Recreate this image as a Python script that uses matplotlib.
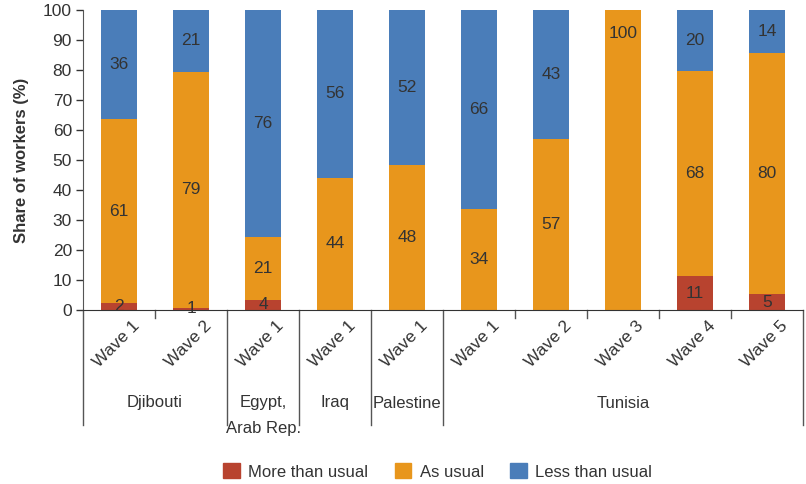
import matplotlib
matplotlib.use("Agg")
import matplotlib.pyplot as plt
from matplotlib.patches import Patch

plt.rcParams["font.family"] = ["Liberation Sans", "DejaVu Sans"]

# Bars: one per survey wave
groups = ["Djibouti", "Egypt,\nArab Rep.", "Iraq", "Palestine", "Tunisia"]
group_sizes = [2, 1, 1, 1, 5]
waves = ["Wave 1", "Wave 2", "Wave 1", "Wave 1", "Wave 1",
         "Wave 1", "Wave 2", "Wave 3", "Wave 4", "Wave 5"]

# Segment heights (share of workers, %)
more_than_usual = [2.4, 0.8, 3.5, 0, 0, 0, 0, 0, 11.2, 5.2]
as_usual = [61.2, 78.7, 20.8, 44, 48.3, 33.8, 56.9, 100, 68.6, 80.6]
less_than_usual = [36.4, 20.5, 75.7, 56, 51.7, 66.2, 43.1, 0, 20.2, 14.2]

# Printed labels
more_labels = [2, 1, 4, None, None, None, None, None, 11, 5]
as_labels = [61, 79, 21, 44, 48, 34, 57, 100, 68, 80]
less_labels = [36, 21, 76, 56, 52, 66, 43, None, 20, 14]

RED = "#B8432F"
ORANGE = "#E8961C"
BLUE = "#4A7DB9"
TXT = "#333333"
FS = 12
FS_NUM = 12.5

fig = plt.figure(figsize=(8.06, 4.84), dpi=100)
ax = fig.add_axes([83 / 806, 1 - 310 / 484, 720 / 806, 300 / 484])

x = list(range(len(waves)))
w = 0.51
ax.bar(x, more_than_usual, width=w, color=RED)
bottom2 = [a for a in more_than_usual]
ax.bar(x, as_usual, width=w, bottom=bottom2, color=ORANGE)
bottom3 = [a + b for a, b in zip(more_than_usual, as_usual)]
ax.bar(x, less_than_usual, width=w, bottom=bottom3, color=BLUE)

for i in x:
    if more_labels[i] is not None:
        ax.text(i, more_than_usual[i] / 2, str(more_labels[i]), ha="center",
                va="center", fontsize=FS_NUM, color=TXT, clip_on=False)
    if as_labels[i] is not None:
        yc = bottom2[i] + as_usual[i] / 2
        if as_usual[i] >= 99.9:
            yc = 92
        ax.text(i, yc, str(as_labels[i]), ha="center", va="center",
                fontsize=FS_NUM, color=TXT)
    if less_labels[i] is not None:
        ax.text(i, bottom3[i] + less_than_usual[i] / 2, str(less_labels[i]),
                ha="center", va="center", fontsize=FS_NUM, color=TXT)

ax.set_xlim(-0.5, len(waves) - 0.5)
ax.set_ylim(0, 100)
ax.set_yticks(range(0, 101, 10))
ax.tick_params(axis="y", labelsize=FS_NUM, colors=TXT, length=5, width=1, pad=3)
ax.set_ylabel("Share of workers (%)", fontsize=FS, color=TXT,
              fontweight="bold", labelpad=10)
ax.spines["top"].set_visible(False)
ax.spines["right"].set_visible(False)
ax.spines["left"].set_color("#555555")
ax.spines["bottom"].set_color("#333333")
ax.set_xticks([])

# Wave labels (rotated)
for i, lab in enumerate(waves):
    ax.annotate(lab, xy=(i + 0.18, 0), xycoords=("data", "axes fraction"),
                xytext=(0, -6), textcoords="offset points", rotation=45,
                ha="right", va="top", rotation_mode="anchor",
                fontsize=FS_NUM, color=TXT)

# Group separators and names
start = 0
line_kw = dict(color="#555555", lw=1, clip_on=False,
               transform=ax.get_xaxis_transform())
ax.plot([-0.5, -0.5], [0, -0.383], **line_kw)
for g, n in zip(groups, group_sizes):
    end = start + n
    ax.plot([end - 0.5, end - 0.5], [0, -0.383], **line_kw)
    for k in range(start + 1, end):
        ax.plot([k - 0.5, k - 0.5], [0, -0.027], **line_kw)
    ax.text((start + end - 1) / 2, -0.285, g, ha="center", va="top",
            fontsize=FS, color=TXT, linespacing=1.85,
            transform=ax.get_xaxis_transform())
    start = end

handles = [Patch(color=RED, label="More than usual"),
           Patch(color=ORANGE, label="As usual"),
           Patch(color=BLUE, label="Less than usual")]
fig.legend(handles=handles, loc="lower center", bbox_to_anchor=(0.543, -0.022),
           ncol=3, frameon=False, fontsize=FS, handlelength=1.0,
           handleheight=1.0, columnspacing=1.6, handletextpad=0.5,
           labelcolor=TXT)

fig.savefig("out.png", dpi=100)
